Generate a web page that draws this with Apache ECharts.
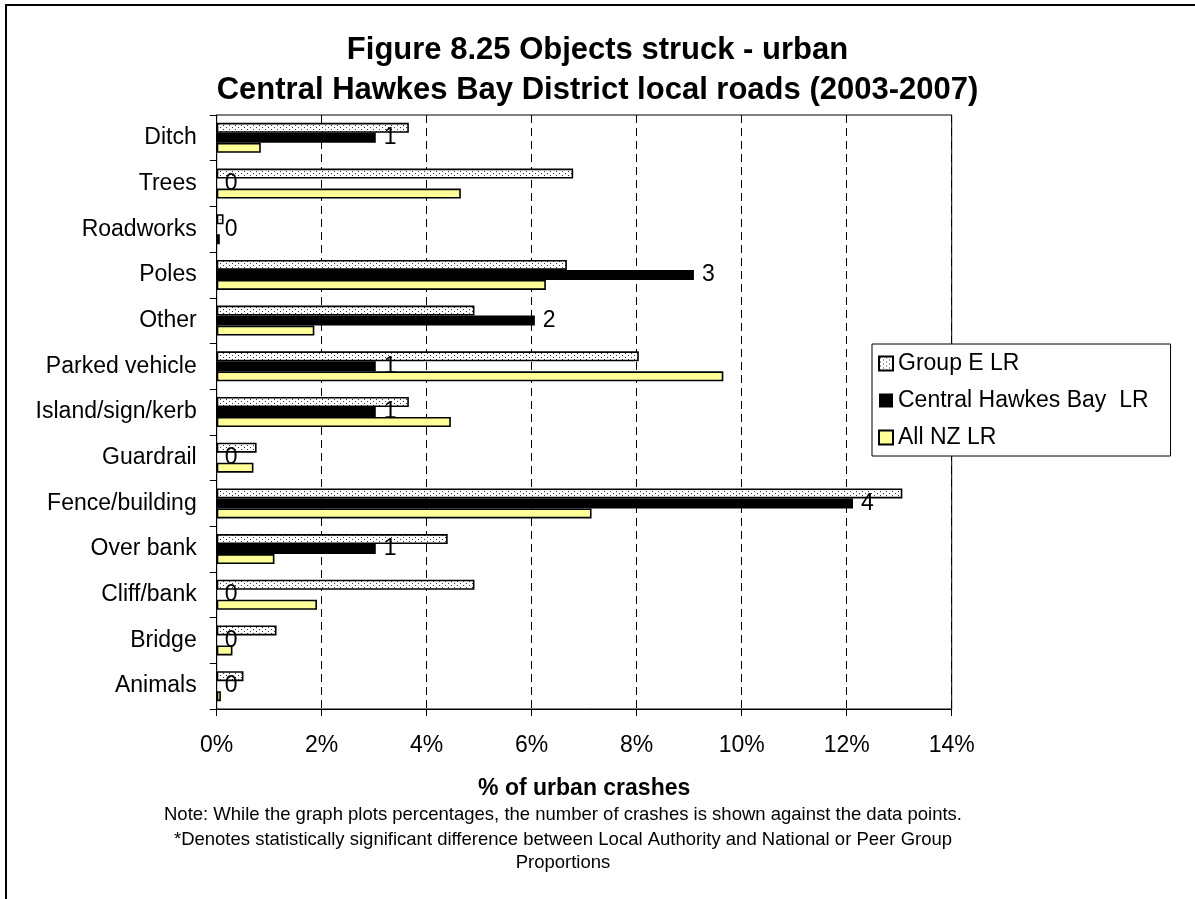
<!DOCTYPE html>
<html>
<head>
<meta charset="utf-8">
<script src="https://cdn.jsdelivr.net/npm/echarts@6/dist/echarts.min.js"></script>
<style>
html,body{margin:0;padding:0;background:#fff;}
#chart{width:1195px;height:899px;}
</style>
</head>
<body>
<div id="chart"></div>
<script>
const categories = ["Ditch","Trees","Roadworks","Poles","Other","Parked vehicle","Island/sign/kerb","Guardrail","Fence/building","Over bank","Cliff/bank","Bridge","Animals"];
const groupE = [3.66,6.79,0.13,6.67,4.91,8.04,3.66,0.76,13.06,4.40,4.91,1.14,0.51];
const chb = [3.03,0,0,9.09,6.06,3.03,3.03,0,12.12,3.03,0,0,0];
const chbCounts = [1,0,0,3,2,1,1,0,4,1,0,0,0];
const allNZ = [0.84,4.65,0.06,6.27,1.86,9.65,4.46,0.70,7.14,1.10,1.91,0.30,0.08];
const seriesNames = ["Group E LR","Central Hawkes Bay  LR","All NZ LR"];
const xTicks = {min:0, max:14, interval:2};
const notes = [
  'Note: While the graph plots percentages, the number of crashes is shown against the data points.',
  '*Denotes statistically significant difference between Local Authority and National or Peer Group',
  'Proportions'
];

const pc = document.createElement('canvas');
pc.width = 6; pc.height = 4;
const pctx = pc.getContext('2d');
pctx.fillStyle = '#ffffff'; pctx.fillRect(0,0,6,4);
pctx.fillStyle = '#333333';
pctx.fillRect(1,1,1,1); pctx.fillRect(4,3,1,1);

const FONT = 'Liberation Sans, Arial, sans-serif';
const chart = echarts.init(document.getElementById('chart'), null, {renderer:'canvas'});
const noteY = [815, 840, 863];
chart.setOption({
  animation:false,
  backgroundColor:'#ffffff',
  textStyle:{fontFamily:FONT},
  title:{
    text:'Figure 8.25 Objects struck - urban\nCentral Hawkes Bay District local roads (2003-2007)',
    left:'center', top:25,
    textStyle:{fontFamily:FONT,fontSize:31,fontWeight:'bold',color:'#000',lineHeight:40}
  },
  legend:{
    orient:'vertical', left:872, top:344,
    padding:[8,22,7,6], itemGap:14, itemWidth:14, itemHeight:14,
    borderColor:'#000', borderWidth:1, backgroundColor:'#fff',
    icon:'rect',
    textStyle:{fontFamily:FONT,fontSize:23,color:'#000',lineHeight:23},
    data:seriesNames
  },
  grid:{left:216.7, top:115, right:243.3, bottom:190, show:true, borderColor:'#000', borderWidth:1, containLabel:false},
  xAxis:{
    type:'value', min:xTicks.min, max:xTicks.max, interval:xTicks.interval,
    name:'% of urban crashes', nameLocation:'middle', nameGap:68,
    nameTextStyle:{fontFamily:FONT,fontSize:23,fontWeight:'bold',color:'#000'},
    axisLine:{show:true,lineStyle:{color:'#000',width:1}},
    axisTick:{show:true,length:7,lineStyle:{color:'#000'}},
    axisLabel:{formatter:'{value}%',fontFamily:FONT,fontSize:23,color:'#000',margin:25},
    splitLine:{show:true,lineStyle:{color:'#000',type:[8,5],width:1}}
  },
  yAxis:{
    type:'category', inverse:true, data:categories,
    axisLine:{show:true,lineStyle:{color:'#000',width:1}},
    axisTick:{show:true,length:7,lineStyle:{color:'#000'}},
    axisLabel:{fontFamily:FONT,fontSize:23,color:'#000',margin:20},
    splitLine:{show:false}
  },
  graphic:[
    {type:'rect', silent:true, shape:{x:6,y:5,width:1300,height:1000}, style:{fill:null,stroke:'#000',lineWidth:2}}
  ].concat(notes.map(function(t,i){
    return {type:'text', silent:true, style:{x:563,y:noteY[i],text:t,textAlign:'center',textVerticalAlign:'middle',fontFamily:FONT,fontSize:18.5,fill:'#000'}};
  })),
  series:[
    {name:seriesNames[0], type:'bar', data:groupE, barWidth:10, barGap:'0%',
     itemStyle:{color:{image:pc,repeat:'repeat'}, borderColor:'#000', borderWidth:1.6}},
    {name:seriesNames[1], type:'bar', data:chb, barWidth:10, barGap:'0%',
     itemStyle:{color:'#000', borderWidth:0},
     label:{show:true, position:'right', distance:8, fontFamily:FONT, fontSize:23, color:'#000',
       formatter:function(p){return String(chbCounts[p.dataIndex]);}}},
    {name:seriesNames[2], type:'bar', data:allNZ, barWidth:10, barGap:'0%',
     itemStyle:{color:'#FFFF99', borderColor:'#000', borderWidth:1.6}}
  ]
});
</script>
</body>
</html>
